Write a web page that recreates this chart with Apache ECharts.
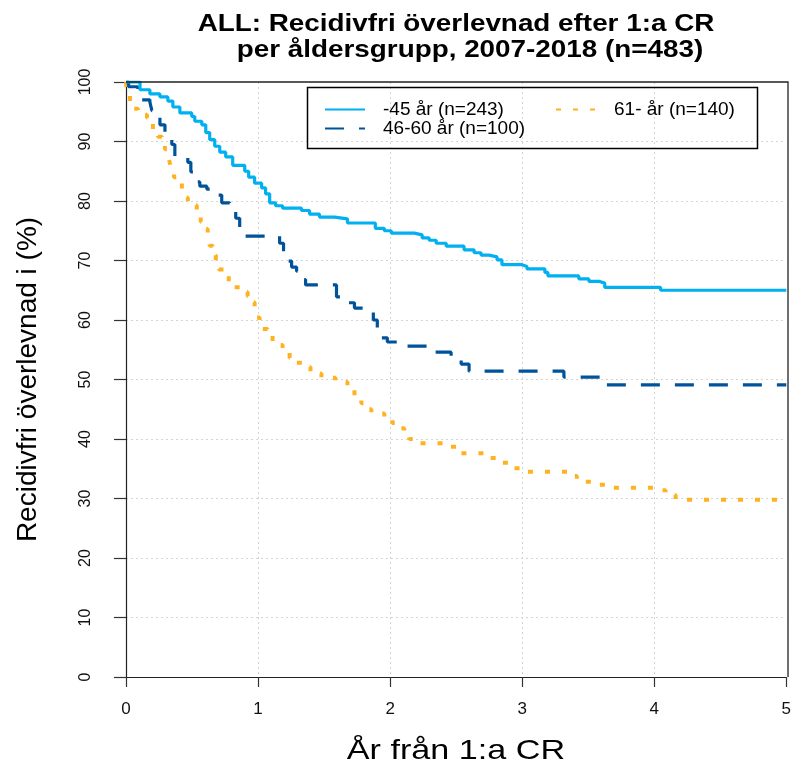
<!DOCTYPE html>
<html><head><meta charset="utf-8">
<script src="https://cdn.jsdelivr.net/npm/echarts@6/dist/echarts.min.js"></script>
<style>html,body{margin:0;padding:0;background:#fff}#c{width:794px;height:769px}</style>
</head><body><div id="c"></div>
<script>
const titleLines = ['ALL: Recidivfri överlevnad efter 1:a CR', 'per åldersgrupp, 2007-2018 (n=483)'];
const xTitle = 'År från 1:a CR';
const yTitle = 'Recidivfri överlevnad i (%)';
const seriesNames = ['-45 år (n=243)', '46-60 år (n=100)', '61- år (n=140)'];
const xTicks = [0, 1, 2, 3, 4, 5];
const yTicks = [0, 10, 20, 30, 40, 50, 60, 70, 80, 90, 100];

const youngT = [0, 0.106, 0.181, 0.257, 0.317, 0.355, 0.408, 0.498, 0.521, 0.574, 0.604, 0.634, 0.672, 0.710, 0.755, 0.808, 0.899, 0.929, 0.974, 1.027, 1.057, 1.088, 1.133, 1.186, 1.329, 1.390, 1.465, 1.579, 1.677, 1.888, 1.956, 2.009, 2.183, 2.243, 2.296, 2.349, 2.425, 2.560, 2.636, 2.689, 2.749, 2.810, 2.847, 2.998, 3.036, 3.172, 3.195, 3.429, 3.505, 3.580, 3.625, 4.048, 5.0];
const youngS = [100, 98.7, 98.0, 97.5, 96.8, 95.8, 94.8, 94.2, 93.4, 92.8, 91.5, 90.3, 89.2, 88.2, 87.4, 86.0, 85.0, 84.0, 83.0, 82.2, 81.2, 79.7, 79.2, 78.8, 78.4, 77.8, 77.3, 77.0, 76.3, 75.4, 75.0, 74.6, 74.3, 73.8, 73.4, 72.9, 72.4, 71.8, 71.3, 70.9, 70.6, 70.1, 69.3, 69.0, 68.6, 68.0, 67.4, 66.9, 66.5, 66.2, 65.5, 65.0, 65.0];

const midT = [0, 0.02, 0.09, 0.106, 0.181, 0.196, 0.219, 0.257, 0.295, 0.317, 0.347, 0.370, 0.468, 0.491, 0.521, 0.559, 0.612, 0.657, 0.725, 0.785, 0.831, 0.861, 0.884, 1.163, 1.193, 1.231, 1.254, 1.292, 1.329, 1.360, 1.594, 1.650, 1.730, 1.828, 1.873, 1.903, 1.926, 1.979, 2.054, 2.334, 2.462, 2.538, 2.598, 3.316, 3.618, 5.0];
const midS = [100, 99.2, 97.5, 97.0, 96.6, 95.2, 94.1, 92.8, 91.5, 90.5, 89.5, 87.4, 86.5, 84.9, 83.2, 82.5, 82.0, 81.0, 79.7, 78.5, 77.1, 75.5, 74.1, 72.9, 71.4, 69.9, 68.9, 68.2, 66.8, 65.9, 63.9, 62.9, 62.0, 61.3, 60.0, 58.3, 57.0, 56.3, 55.6, 54.6, 53.6, 52.6, 51.4, 50.4, 49.1, 49.1];

const oldT = [0, 0.008, 0.03, 0.053, 0.091, 0.159, 0.181, 0.204, 0.242, 0.272, 0.295, 0.317, 0.332, 0.347, 0.363, 0.400, 0.423, 0.438, 0.468, 0.536, 0.566, 0.589, 0.619, 0.634, 0.657, 0.680, 0.702, 0.740, 0.778, 0.808, 0.861, 0.921, 0.952, 0.974, 0.989, 1.012, 1.035, 1.073, 1.110, 1.148, 1.186, 1.239, 1.276, 1.337, 1.397, 1.480, 1.586, 1.677, 1.730, 1.782, 1.828, 1.858, 1.956, 2.017, 2.069, 2.107, 2.145, 2.205, 2.447, 2.508, 2.734, 2.825, 2.900, 2.991, 3.353, 3.414, 3.542, 3.633, 4.011, 4.086, 4.162, 5.0];
const oldS = [100, 98.0, 96.5, 95.5, 94.5, 94.0, 93.0, 92.0, 90.8, 89.9, 88.7, 87.7, 86.4, 85.2, 84.0, 83.0, 81.8, 80.6, 79.3, 78.2, 76.5, 75.3, 74.0, 72.5, 70.9, 69.5, 68.5, 67.6, 66.3, 65.5, 64.7, 64.0, 63.0, 62.0, 60.4, 59.3, 58.5, 57.3, 56.3, 55.8, 54.9, 53.6, 52.8, 52.1, 51.0, 50.3, 49.6, 48.7, 47.2, 46.0, 45.0, 44.3, 43.5, 42.7, 41.8, 40.9, 40.0, 39.3, 38.7, 37.6, 36.8, 36.0, 35.1, 34.5, 33.8, 32.8, 32.3, 31.8, 31.4, 30.6, 29.8, 29.8];

const zip = (t, s) => t.map((v, i) => [v, s[i]]);
const FONT = '"Liberation Sans", Arial, sans-serif';
const colors = ['#00B0F0', '#00539B', '#FFB21F'];

const chart = echarts.init(document.getElementById('c'), null, {renderer: 'canvas'});
const legendBase = (name, left, top) => ({
  data: [name], left: left, top: top, padding: 0, itemWidth: 40, itemHeight: 14,
  itemStyle: {opacity: 0},
  textStyle: {fontFamily: FONT, fontSize: 19, color: '#000', padding: [0, 0, 0, 13]},
  selectedMode: false
});
const htext = (txt, x, y, size, weight, sx) => ({
  type: 'text', x: x, y: y, scaleX: sx, z: 20,
  style: {text: txt, fill: '#000', font: weight + ' ' + size + 'px ' + FONT, textAlign: 'center', textVerticalAlign: 'middle'}
});
const split = {show: true, showMinLine: false, showMaxLine: false, lineStyle: {color: '#d4d4d4', type: [2, 3], width: 1}};
chart.setOption({
  animation: false,
  backgroundColor: '#fff',
  legend: [
    legendBase(seriesNames[0], 324, 100),
    legendBase(seriesNames[2], 555, 100),
    legendBase(seriesNames[1], 324, 119)
  ],
  graphic: [
    {type: 'rect', shape: {x: 307.5, y: 87.5, width: 450, height: 61}, style: {fill: null, stroke: '#000', lineWidth: 1.5}, z: 10},
    {type: 'polyline', shape: {points: [[126, 82], [788, 82], [788, 677]]}, style: {fill: null, stroke: '#222', lineWidth: 1.3}, z: 9},
    htext(titleLines[0], 456, 24, 24, 'bold', 1.16),
    htext(titleLines[1], 470, 50, 24, 'bold', 1.16),
    htext(xTitle, 456, 751, 28, 'normal', 1.22)
  ],
  grid: {left: 126, right: 6, top: 82, bottom: 92, show: false},
  xAxis: {
    type: 'value', min: 0, max: 5, interval: 1,
    axisLine: {show: true, onZero: false, lineStyle: {color: '#222', width: 1.2}},
    axisTick: {show: true, length: 10, lineStyle: {color: '#333', width: 1.2}},
    axisLabel: {fontFamily: FONT, fontSize: 17, color: '#111', margin: 24, formatter: v => xTicks.includes(v) ? String(v) : ''},
    splitLine: split
  },
  yAxis: {
    type: 'value', min: 0, max: 100, interval: 10,
    name: yTitle, nameLocation: 'middle', nameGap: 84,
    nameTextStyle: {fontFamily: FONT, fontSize: 28, color: '#000'},
    axisLine: {show: true, onZero: false, lineStyle: {color: '#222', width: 1.2}},
    axisTick: {show: true, length: 12, lineStyle: {color: '#333', width: 1.2}},
    axisLabel: {fontFamily: FONT, fontSize: 16, color: '#111', margin: 32, rotate: 90, formatter: v => yTicks.includes(v) ? String(v) : ''},
    splitLine: split
  },
  series: [
    {name: seriesNames[0], type: 'line', step: 'end', symbol: 'none', data: zip(youngT, youngS),
     lineStyle: {color: colors[0], width: 3.2}, itemStyle: {color: colors[0]}, z: 5},
    {name: seriesNames[1], type: 'line', step: 'end', symbol: 'none', data: zip(midT, midS),
     lineStyle: {color: colors[1], width: 3.2, type: [19, 15]}, itemStyle: {color: colors[1]}, z: 4},
    {name: seriesNames[2], type: 'line', step: 'end', symbol: 'none', data: zip(oldT, oldS),
     lineStyle: {color: colors[2], width: 4, type: [5, 12]}, itemStyle: {color: colors[2]}, z: 3}
  ]
});
</script></body></html>
